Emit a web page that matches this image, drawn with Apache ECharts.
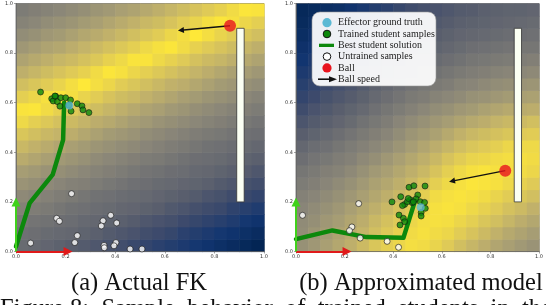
<!DOCTYPE html>
<html><head><meta charset="utf-8">
<script src="https://cdn.jsdelivr.net/npm/echarts@6/dist/echarts.min.js"></script>
<style>html,body{margin:0;padding:0;background:#fff;overflow:hidden}#c{width:546px;height:305px}</style>
</head><body><div id="c"></div>
<script>
// ---------- data ----------
const tickValues = [0, 0.2, 0.4, 0.6, 0.8, 1.0];
const cellCount = 20; // cells per side of the background field (rows listed bottom -> top)
const fieldA = [
[41,40,38,36,34,32,30,27,25,22,20,18,16,14,12,10,8,6,4,2],
[44,43,41,40,39,37,35,32,30,28,25,23,21,18,16,14,12,10,8,6],
[48,46,45,43,42,40,39,37,35,33,30,28,26,23,21,19,17,15,12,10],
[53,51,49,47,45,44,42,41,39,38,36,34,31,29,26,24,22,19,17,15],
[57,55,53,51,49,47,45,44,42,41,40,38,36,34,32,29,27,24,22,20],
[62,60,57,55,53,52,50,48,46,44,43,41,40,38,37,35,32,30,27,25],
[67,65,62,60,58,56,54,52,50,48,46,45,43,42,40,39,37,35,33,30],
[74,71,68,65,63,61,58,56,54,52,50,49,47,45,43,42,41,39,37,35],
[80,77,74,71,68,66,63,61,59,57,55,53,51,49,47,45,44,42,41,39],
[86,83,80,78,75,72,69,66,64,62,59,57,55,53,51,49,48,46,44,43],
[94,90,87,84,81,78,75,73,70,67,65,62,60,58,56,54,52,50,48,46],
[98,99,95,91,88,85,82,79,76,73,70,68,65,63,60,58,56,54,52,50],
[90,93,97,99,96,92,89,85,82,80,77,74,71,68,66,63,61,59,56,54],
[83,86,89,92,96,100,96,93,89,86,83,80,77,75,72,69,66,64,61,59],
[76,79,82,85,88,91,95,99,97,93,90,87,84,81,78,75,72,69,67,64],
[70,73,76,79,81,84,87,91,94,98,98,94,91,88,84,81,79,76,73,70],
[64,67,70,72,75,78,81,84,87,90,94,97,99,95,91,88,85,82,79,76],
[59,61,64,66,69,72,74,77,80,83,86,89,93,96,100,96,92,89,86,83],
[54,56,59,61,63,66,68,71,74,77,80,82,85,89,92,96,99,97,93,90],
[50,52,54,56,58,60,63,65,68,70,73,76,79,82,85,88,91,95,99,98]
];
const fieldB = [
[61,64,68,72,76,81,86,90,93,96,95,92,88,83,79,75,71,68,65,62],
[59,63,66,70,74,78,83,87,91,95,97,95,93,89,85,81,77,73,70,67],
[58,60,64,67,71,75,80,84,88,93,96,97,96,93,90,86,83,79,75,72],
[55,58,61,64,68,72,76,80,85,89,94,97,98,97,94,91,88,84,81,77],
[53,55,58,61,64,68,72,76,80,85,90,95,97,98,97,95,92,89,86,83],
[50,52,55,58,61,65,69,72,76,80,85,90,94,97,99,98,97,94,91,88],
[47,49,52,54,57,61,65,68,72,76,80,85,90,94,97,98,97,96,95,93],
[43,46,48,51,53,57,60,64,68,72,76,80,85,89,92,93,95,96,96,95],
[39,42,44,47,50,53,56,59,63,67,71,75,79,83,86,88,90,93,94,94],
[34,37,40,43,46,49,52,55,59,63,66,69,73,77,80,82,84,86,88,89],
[29,32,35,38,41,45,48,51,55,58,61,64,67,70,73,75,78,80,81,83],
[24,28,31,34,37,40,44,47,50,53,56,59,61,64,66,69,71,73,74,75],
[20,23,27,30,33,36,40,43,46,49,51,54,56,58,61,62,64,66,68,69],
[17,20,23,26,29,32,36,39,42,45,47,49,51,54,55,57,59,60,62,63],
[14,16,19,22,25,28,32,35,38,41,43,45,47,49,51,52,54,55,56,57],
[11,14,16,18,21,24,28,31,34,37,39,41,43,45,47,48,49,50,51,52],
[9,11,13,15,18,21,24,27,30,33,35,37,39,41,43,44,45,46,47,47],
[7,9,10,12,15,18,21,24,27,30,32,34,36,38,39,40,41,42,43,44],
[5,7,8,10,13,15,18,21,24,27,29,31,33,35,36,37,38,39,40,41],
[4,5,7,8,10,13,16,18,21,24,26,28,30,32,33,35,36,37,37,38]
];
const wallA = [0.89, 0.2, 0.92, 0.9];
const wallB = [0.898, 0.2, 0.928, 0.9];
const pathA = [[0,0.02],[0.055,0.195],[0.148,0.31],[0.19,0.45],[0.194,0.6]];
const pathB = [[0,0.05],[0.15,0.085],[0.29,0.058],[0.442,0.055],[0.49,0.205]];
const trainedA = [[0.099,0.643],[0.144,0.616],[0.150,0.607],[0.160,0.626],[0.167,0.604],[0.181,0.620],[0.200,0.620],[0.220,0.611],[0.177,0.586],[0.222,0.566],[0.247,0.596],[0.266,0.587],[0.270,0.571],[0.294,0.560],[0.157,0.627],[0.213,0.590]];
const trainedB = [[0.465,0.259],[0.485,0.265],[0.531,0.264],[0.431,0.221],[0.395,0.200],[0.501,0.228],[0.447,0.190],[0.471,0.208],[0.494,0.212],[0.478,0.197],[0.458,0.201],[0.511,0.201],[0.529,0.198],[0.532,0.174],[0.515,0.157],[0.515,0.143],[0.424,0.147],[0.442,0.134],[0.447,0.120],[0.428,0.107],[0.438,0.185],[0.483,0.200],[0.462,0.214]];
const untrainedA = [[0.224,0.233],[0.164,0.134],[0.175,0.122],[0.382,0.146],[0.351,0.124],[0.344,0.103],[0.406,0.115],[0.247,0.064],[0.237,0.036],[0.059,0.034],[0.355,0.025],[0.356,0.015],[0.403,0.036],[0.395,0.023],[0.460,0.010],[0.508,0.010]];
const untrainedB = [[0.027,0.146],[0.258,0.193],[0.230,0.099],[0.220,0.084],[0.264,0.054],[0.375,0.041],[0.422,0.017]];
const effectorA = [0.215,0.589];
const effectorB = [0.513,0.178];
const ballA = [0.863,0.910];
const ballB = [0.861,0.326];
const speedTipA = [0.665,0.892];
const speedTipB = [0.642,0.284];
const frameX = [[0,0],[0.21,0]];
const frameY = [[0,0],[0,0.2]];
const legendNames = ['Effector ground truth','Trained student samples','Best student solution','Untrained samples','Ball','Ball speed'];
const captions = ['(a) Actual FK','(b) Approximated model'];
const figureText = 'Figure 8:  Sample  behavior  of  trained  students  in  the';

// ---------- styles ----------
const cividis = ['#00224e','#123570','#3b496c','#575d6d','#707173','#8a8678','#a59c74','#c3b369','#e1cc55','#fee838'];
const grids = [
  {left:16, top:3.5, width:248, height:248},
  {left:296, top:3.5, width:249, height:248}
];
function cells(field){
  const out=[];
  for(let j=0;j<field.length;j++) for(let i=0;i<field[j].length;i++)
    out.push([(i+0.5)/cellCount,(j+0.5)/cellCount,field[j][i]]);
  return out;
}
const half = 0.5/cellCount;
function fieldSeries(g, field){
  return {type:'custom', xAxisIndex:g, yAxisIndex:g, z:0, silent:true, data:cells(field),
    encode:{x:0,y:1},
    renderItem:(params, api)=>{
      const x=api.value(0), y=api.value(1);
      const p0=api.coord([x-half,y+half]), p1=api.coord([x+half,y-half]);
      return {type:'rect', shape:{x:p0[0],y:p0[1],width:p1[0]-p0[0]+0.6,height:p1[1]-p0[1]+0.6},
        style:{fill:api.visual('color')}};
    }};
}
function wallSeries(g, w){
  return {type:'custom', xAxisIndex:g, yAxisIndex:g, z:2, silent:true, data:[w],
    encode:{x:[0,2],y:[1,3]},
    renderItem:(params, api)=>{
      const p0=api.coord([api.value(0),api.value(3)]), p1=api.coord([api.value(2),api.value(1)]);
      return {type:'rect', shape:{x:p0[0],y:p0[1],width:p1[0]-p0[0],height:p1[1]-p0[1]},
        style:{fill:'#fbfff3', stroke:'#333', lineWidth:0.8}};
    }};
}
function arrowSeries(g, coords, color, width, head, z, name){
  return {type:'lines', name:name, coordinateSystem:'cartesian2d', xAxisIndex:g, yAxisIndex:g, z:z, silent:true, clip:false,
    data:[{coords:coords}], symbol:['none','triangle'], symbolSize:[0,head],
    lineStyle:{color:color, width:width, opacity:1, curveness:0}};
}
function panelSeries(g, d){
  return [
    fieldSeries(g, d.field),
    wallSeries(g, d.wall),
    arrowSeries(g, frameX, '#e01a1a', 2, 9, 8),
    arrowSeries(g, frameY, '#3fd21a', 2, 9, 8),
    {type:'line', name:'Best student solution', xAxisIndex:g, yAxisIndex:g, z:4, silent:true, clip:false, data:d.path,
      showSymbol:false, lineStyle:{color:'#0c880c', width:4.5, join:'round', cap:'round'}},
    {type:'scatter', name:'Untrained samples', xAxisIndex:g, yAxisIndex:g, z:5, silent:true, data:d.untrained,
      symbolSize:6, itemStyle:{color:'#ffffff', borderColor:'#111', borderWidth:0.8}},
    {type:'scatter', name:'Trained student samples', xAxisIndex:g, yAxisIndex:g, z:5, silent:true, data:d.trained,
      symbolSize:6, itemStyle:{color:'#0c880c', borderColor:'#111', borderWidth:0.7}},
    {type:'scatter', name:'Effector ground truth', xAxisIndex:g, yAxisIndex:g, z:6, silent:true, data:[d.effector],
      symbolSize:8, itemStyle:{color:'#5ab9d4'}},
    arrowSeries(g, [d.ball, d.tip], '#111', 1.4, 6, 6, 'Ball speed'),
    {type:'scatter', name:'Ball', xAxisIndex:g, yAxisIndex:g, z:7, silent:true, data:[d.ball],
      symbolSize:12, itemStyle:{color:'#e8141e'}}
  ];
}
const axisCommon = {type:'value', min:0, max:1, interval:0.2,
  axisLine:{show:true, lineStyle:{color:'#666', width:0.8}},
  axisTick:{show:true, length:2, lineStyle:{color:'#666', width:0.6}},
  axisLabel:{fontSize:5, color:'#333', margin:3, fontFamily:'DejaVu Sans', formatter:v=>v.toFixed(1)},
  splitLine:{show:false}};
const panels = [
  {field:fieldA, wall:wallA, path:pathA, trained:trainedA, untrained:untrainedA, effector:effectorA, ball:ballA, tip:speedTipA},
  {field:fieldB, wall:wallB, path:pathB, trained:trainedB, untrained:untrainedB, effector:effectorB, ball:ballB, tip:speedTipB}
];
const series = [].concat(panelSeries(0, panels[0]), panelSeries(1, panels[1]));

// legend (drawn as graphic inside panel b)
const lx = 327, ly0 = 22.7, lgap = 11.3, tx = 338;
const legendGraphic = [
  {type:'rect', shape:{x:312, y:12, width:124, height:74, r:8}, style:{fill:'rgba(255,255,255,0.93)', stroke:'#999', lineWidth:0.6}, z:100},
  {type:'circle', shape:{cx:lx, cy:ly0, r:4.6}, style:{fill:'#5ab9d4'}, z:101},
  {type:'circle', shape:{cx:lx, cy:ly0+lgap, r:3.8}, style:{fill:'#0c880c', stroke:'#111', lineWidth:1}, z:101},
  {type:'rect', shape:{x:319, y:ly0+2*lgap-1.6, width:15, height:3.3}, style:{fill:'#0c880c'}, z:101},
  {type:'circle', shape:{cx:lx, cy:ly0+3*lgap, r:3.8}, style:{fill:'#fff', stroke:'#111', lineWidth:1}, z:101},
  {type:'circle', shape:{cx:lx, cy:ly0+4*lgap, r:4.6}, style:{fill:'#e8141e'}, z:101},
  {type:'line', shape:{x1:318, y1:ly0+5*lgap, x2:331, y2:ly0+5*lgap}, style:{stroke:'#111', lineWidth:1.6}, z:101},
  {type:'polygon', shape:{points:[[329,ly0+5*lgap-3],[337,ly0+5*lgap],[329,ly0+5*lgap+3]]}, style:{fill:'#111'}, z:101}
];
legendNames.forEach((n,k)=>{
  legendGraphic.push({type:'text', x:tx, y:ly0+k*lgap, z:102,
    style:{text:n, font:'10px "Liberation Serif"', fill:'#222', verticalAlign:'middle', align:'left'}});
});
const captionGraphic = [
  {type:'text', x:139, y:284, style:{text:captions[0], font:'24.5px "Liberation Serif"', fill:'#111', align:'center', verticalAlign:'middle'}},
  {type:'text', x:421, y:284, style:{text:captions[1], font:'24.5px "Liberation Serif"', fill:'#111', align:'center', verticalAlign:'middle'}},
  {type:'text', x:0, y:310, style:{text:figureText, font:'24.5px "Liberation Serif"', fill:'#111', align:'left', verticalAlign:'middle'}}
];

const chart = echarts.init(document.getElementById('c'), null, {renderer:'canvas'});
chart.setOption({
  animation:false,
  grid: grids.map(g=>Object.assign({show:true, borderColor:'#666', borderWidth:0.8, backgroundColor:'transparent', containLabel:false}, g)),
  xAxis: [0,1].map(g=>Object.assign({gridIndex:g}, axisCommon)),
  yAxis: [0,1].map(g=>Object.assign({gridIndex:g}, axisCommon)),
  visualMap: [
    {show:false, type:'continuous', seriesIndex:[0, series.length/2], dimension:2, min:0, max:100, inRange:{color:cividis}}
  ],
  series: series,
  graphic: legendGraphic.concat(captionGraphic)
});
</script></body></html>
